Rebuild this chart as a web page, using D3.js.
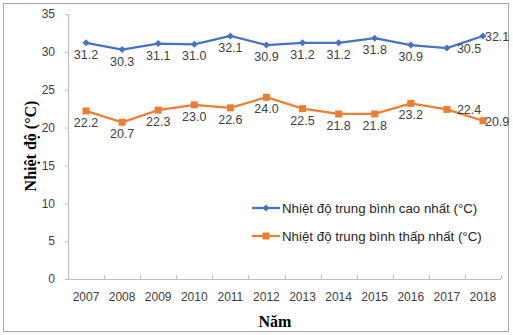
<!DOCTYPE html>
<html>
<head>
<meta charset="utf-8">
<script src="https://cdn.jsdelivr.net/npm/d3@7"></script>
<style>
  body { margin: 0; background: #fff; }
  svg text { font-family: "Liberation Sans", Arial, sans-serif; }
  svg text.title { font-family: "Liberation Serif", "Times New Roman", serif; font-weight: bold; }
</style>
</head>
<body>
<div id="main"></div>
<script>
const years = ['2007','2008','2009','2010','2011','2012','2013','2014','2015','2016','2017','2018'];
const maxTemp = [31.2, 30.3, 31.1, 31.0, 32.1, 30.9, 31.2, 31.2, 31.8, 30.9, 30.5, 32.1];
const minTemp = [22.2, 20.7, 22.3, 23.0, 22.6, 24.0, 22.5, 21.8, 21.8, 23.2, 22.4, 20.9];
const yTicks = [0, 5, 10, 15, 20, 25, 30, 35];
const seriesNames = ['Nhiệt độ trung bình cao nhất (°C)', 'Nhiệt độ trung bình thấp nhất (°C)'];
// where each value label sits: 'b' below, 'r' right
const maxPos = ['b','b','b','b','b','b','b','b','b','b','r','r'];
const minPos = ['b','b','b','b','b','b','b','b','b','b','r','r'];

const width = 513, height = 335;
const margin = { top: 14, right: 12, bottom: 56, left: 68 };

const svg = d3.select('#main').append('svg')
  .attr('width', width).attr('height', height);

// outer frame
svg.append('rect')
  .attr('x', 3.5).attr('y', 3.5).attr('width', 505).attr('height', 328)
  .attr('fill', 'none').attr('stroke', '#a6a6a6');

const sx = d3.scaleBand().domain(years).range([margin.left, width - margin.right]);
const sy = d3.scaleLinear().domain([0, 35]).range([height - margin.bottom, margin.top]);

// y axis
const ay = svg.append('g').attr('transform', `translate(${margin.left},0)`)
  .call(d3.axisLeft(sy).tickValues(yTicks).tickSize(3).tickPadding(10));
ay.select('.domain').attr('stroke', '#bfbfbf');
ay.selectAll('.tick line').attr('stroke', '#bfbfbf');
ay.selectAll('text').attr('font-size', 12).attr('fill', '#404040');

// x axis with inner ticks at band boundaries
const y0 = sy(0);
const ax = svg.append('g');
ax.append('line')
  .attr('x1', margin.left).attr('x2', width - margin.right)
  .attr('y1', y0 + 0.5).attr('y2', y0 + 0.5).attr('stroke', '#bfbfbf');
ax.selectAll('line.tk').data(years).join('line')
  .attr('class', 'tk')
  .attr('x1', d => Math.round(sx(d) + sx.step()) + 0.5)
  .attr('x2', d => Math.round(sx(d) + sx.step()) + 0.5)
  .attr('y1', y0).attr('y2', y0 - 4).attr('stroke', '#bfbfbf');
ax.selectAll('text').data(years).join('text')
  .attr('x', d => sx(d) + sx.bandwidth() / 2)
  .attr('y', y0 + 22)
  .attr('text-anchor', 'middle').attr('font-size', 12).attr('fill', '#404040')
  .text(d => d);

// axis titles
svg.append('text').attr('class', 'title')
  .attr('x', 275).attr('y', 327)
  .attr('text-anchor', 'middle').attr('font-size', 16)
  .text('Năm');
svg.append('text').attr('class', 'title')
  .attr('transform', 'translate(36,146) rotate(-90)')
  .attr('text-anchor', 'middle').attr('font-size', 16)
  .text('Nhiệt độ (°C)');

const cx = i => sx(years[i]) + sx.bandwidth() / 2;
const line = d3.line().x((d, i) => cx(i)).y(d => sy(d));

const series = [
  { vals: maxTemp, pos: maxPos, color: '#4472C4', marker: 'diamond' },
  { vals: minTemp, pos: minPos, color: '#ED7D31', marker: 'square' }
];

function drawMarker(g, type, color) {
  if (type === 'diamond') {
    g.append('path').attr('d', 'M0,-3.5L3.5,0L0,3.5L-3.5,0Z').attr('fill', color);
  } else {
    g.append('rect').attr('x', -3.5).attr('y', -3.5).attr('width', 7).attr('height', 7).attr('fill', color);
  }
}

const last = years.length - 1;
series.forEach(s => {
  svg.append('path').datum(s.vals)
    .attr('d', line).attr('fill', 'none')
    .attr('stroke', s.color).attr('stroke-width', 2.25);
  s.vals.forEach((v, i) => {
    const g = svg.append('g').attr('transform', `translate(${cx(i)},${sy(v)})`);
    drawMarker(g, s.marker, s.color);
  });
  svg.append('g').selectAll('text').data(s.vals).join('text')
    .attr('x', (d, i) => s.pos[i] === 'r' ? cx(i) + (i === last ? 2 : 10) : cx(i))
    .attr('y', (d, i) => s.pos[i] === 'r' ? sy(d) + 5 : sy(d) + 16)
    .attr('text-anchor', (d, i) => s.pos[i] === 'r' ? 'start' : 'middle')
    .attr('font-size', 12.5).attr('fill', '#404040')
    .text(d => d.toFixed(1));
});

// legend
const legend = svg.append('g');
series.forEach((s, k) => {
  const ly = 208 + k * 28;
  legend.append('line')
    .attr('x1', 252).attr('x2', 280).attr('y1', ly).attr('y2', ly)
    .attr('stroke', s.color).attr('stroke-width', 2.25);
  const g = legend.append('g').attr('transform', `translate(266,${ly})`);
  drawMarker(g, s.marker, s.color);
  legend.append('text')
    .attr('x', 282).attr('y', ly + 5)
    .attr('font-size', 13.3).attr('fill', '#262626')
    .text(seriesNames[k]);
});
</script>
</body>
</html>
